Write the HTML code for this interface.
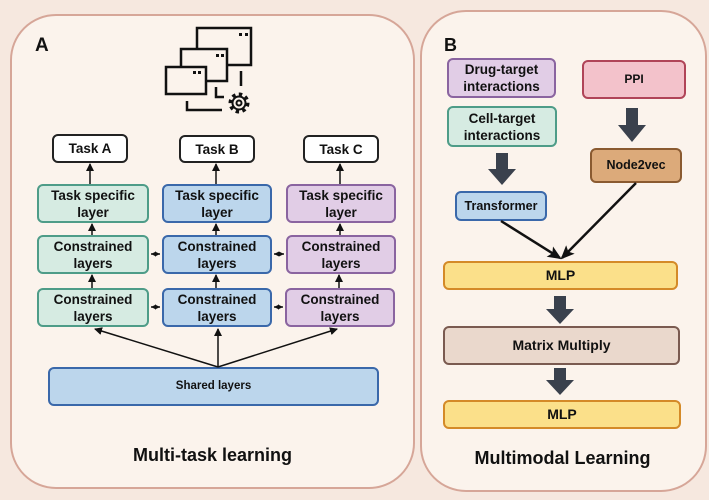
<!DOCTYPE html>
<html><head><meta charset="utf-8"><style>
body{margin:0;width:709px;height:500px;background:#f6e8df;position:relative;overflow:hidden;font-family:"Liberation Sans",sans-serif;font-weight:bold;color:#111}
.p{position:absolute;background:#fbf3ec;border:2px solid #d6a698;border-radius:46px}
.b{position:absolute;box-sizing:border-box;border:2px solid;border-radius:6px;display:flex;align-items:center;justify-content:center;text-align:center;font-size:13.5px;line-height:17px}
.g{background:#d6ebe2;border-color:#4e9c88}
.bl{background:#bcd6ec;border-color:#3a68aa}
.pu{background:#e1cde6;border-color:#8a64a0}
.w{background:#fff;border-color:#222}
svg{position:absolute;left:0;top:0}
</style></head><body>
<div class="p" style="left:10px;top:14px;width:401px;height:471px"></div>
<div class="p" style="left:420px;top:10px;width:283px;height:478px"></div>
<div style="position:absolute;left:35px;top:35px;font-size:19px">A</div>
<div style="position:absolute;left:444px;top:35px;font-size:18px">B</div>

<div class="b w" style="left:52px;top:134px;width:76px;height:29px">Task A</div>
<div class="b w" style="left:179px;top:135px;width:76px;height:28px">Task B</div>
<div class="b w" style="left:303px;top:135px;width:76px;height:28px">Task C</div>
<div class="b g" style="left:37px;top:184px;width:112px;height:39px">Task specific<br>layer</div>
<div class="b bl" style="left:162px;top:184px;width:110px;height:39px">Task specific<br>layer</div>
<div class="b pu" style="left:286px;top:184px;width:110px;height:39px">Task specific<br>layer</div>
<div class="b g" style="left:37px;top:235px;width:112px;height:39px">Constrained<br>layers</div>
<div class="b bl" style="left:162px;top:235px;width:110px;height:39px">Constrained<br>layers</div>
<div class="b pu" style="left:286px;top:235px;width:110px;height:39px">Constrained<br>layers</div>
<div class="b g" style="left:37px;top:288px;width:112px;height:39px">Constrained<br>layers</div>
<div class="b bl" style="left:162px;top:288px;width:110px;height:39px">Constrained<br>layers</div>
<div class="b pu" style="left:285px;top:288px;width:110px;height:39px">Constrained<br>layers</div>
<div class="b bl" style="left:48px;top:367px;width:331px;height:39px;font-size:11.5px">Shared layers</div>
<div style="position:absolute;left:10px;width:405px;top:445px;text-align:center;font-size:18px">Multi-task learning</div>

<div class="b pu" style="left:447px;top:58px;width:109px;height:40px">Drug-target<br>interactions</div>
<div class="b" style="left:582px;top:60px;width:104px;height:39px;background:#f3c2cb;border-color:#b04458;font-size:12px">PPI</div>
<div class="b g" style="left:447px;top:106px;width:110px;height:41px">Cell-target<br>interactions</div>
<div class="b bl" style="left:455px;top:191px;width:92px;height:30px;font-size:12.5px">Transformer</div>
<div class="b" style="left:590px;top:148px;width:92px;height:35px;background:#dcaa7a;border-color:#8a5a30;font-size:12.5px">Node2vec</div>
<div class="b" style="left:443px;top:261px;width:235px;height:29px;background:#fbe08a;border-color:#d48a28;font-size:14px">MLP</div>
<div class="b" style="left:443px;top:326px;width:237px;height:39px;background:#ead8cc;border-color:#7a5a50;font-size:14px">Matrix Multiply</div>
<div class="b" style="left:443px;top:400px;width:238px;height:29px;background:#fbe08a;border-color:#d48a28;font-size:14px">MLP</div>
<div style="position:absolute;left:420px;width:285px;top:448px;text-align:center;font-size:18px">Multimodal Learning</div>

<svg width="709" height="500">
<defs><marker id="a" markerWidth="8" markerHeight="8" refX="7" refY="4" orient="auto" markerUnits="userSpaceOnUse"><path d="M0,0L8,4L0,8z" fill="#111"/></marker>
<marker id="s" markerWidth="5" markerHeight="5" refX="5" refY="2.5" orient="auto-start-reverse" markerUnits="userSpaceOnUse"><path d="M0,0L5,2.5L0,5z" fill="#111"/></marker>
<marker id="c" markerWidth="14" markerHeight="12" refX="12" refY="6" orient="auto" markerUnits="userSpaceOnUse"><path d="M0,0L14,6L0,12L3,6z" fill="#111"/></marker></defs>
<g stroke="#111" stroke-width="1.5" fill="none">
<line x1="90" y1="184" x2="90" y2="164" marker-end="url(#a)"/>
<line x1="216" y1="184" x2="216" y2="164" marker-end="url(#a)"/>
<line x1="340" y1="184" x2="340" y2="164" marker-end="url(#a)"/>
<line x1="92" y1="235" x2="92" y2="224" marker-end="url(#a)"/>
<line x1="216" y1="235" x2="216" y2="224" marker-end="url(#a)"/>
<line x1="340" y1="235" x2="340" y2="224" marker-end="url(#a)"/>
<line x1="92" y1="288" x2="92" y2="275" marker-end="url(#a)"/>
<line x1="216" y1="288" x2="216" y2="275" marker-end="url(#a)"/>
<line x1="339" y1="288" x2="339" y2="275" marker-end="url(#a)"/>
<line x1="151" y1="254" x2="160" y2="254" marker-start="url(#s)" marker-end="url(#s)"/>
<line x1="274" y1="254" x2="284" y2="254" marker-start="url(#s)" marker-end="url(#s)"/>
<line x1="151" y1="307" x2="160" y2="307" marker-start="url(#s)" marker-end="url(#s)"/>
<line x1="274" y1="307" x2="283" y2="307" marker-start="url(#s)" marker-end="url(#s)"/>
<line x1="218" y1="367" x2="95" y2="329" marker-end="url(#a)"/>
<line x1="218" y1="367" x2="218" y2="329" marker-end="url(#a)"/>
<line x1="218" y1="367" x2="337" y2="329" marker-end="url(#a)"/>
<g stroke-width="2.5">
<line x1="501" y1="221" x2="560" y2="258" marker-end="url(#c)"/>
<line x1="636" y1="183" x2="562" y2="258" marker-end="url(#c)"/>
</g>
<g stroke-width="2.5">
<rect x="197" y="28" width="54" height="37"/>
<rect x="181" y="49" width="46" height="32" fill="#fbf3ec"/>
<rect x="166" y="67" width="40" height="27" fill="#fbf3ec"/>
<path d="M241 71v15M216 87v10h8M187 101v9h35"/>
<circle cx="239" cy="103" r="8.5" stroke-width="4" stroke-dasharray="3.3 3.3"/>
<circle cx="239" cy="103" r="6.5" fill="#fbf3ec" stroke-width="2"/>
<circle cx="239" cy="103" r="2.5" stroke-width="2"/>
</g>
</g>
<g fill="#111"><rect x="239" y="33" width="3" height="3"/><rect x="245" y="33" width="3" height="3"/><rect x="216" y="54" width="3" height="3"/><rect x="221" y="54" width="3" height="3"/><rect x="193" y="71" width="3" height="3"/><rect x="198" y="71" width="3" height="3"/></g>
<g fill="#3a414d">
<path d="M496 153h12v16h8l-14 16l-14-16h8z"/>
<path d="M626 108h12v17h8l-14 17l-14-17h8z"/>
<path d="M554 296h12v13h8l-14 15l-14-15h8z"/>
<path d="M554 368h12v12h8l-14 15l-14-15h8z"/>
</g>
</svg>
</body></html>
